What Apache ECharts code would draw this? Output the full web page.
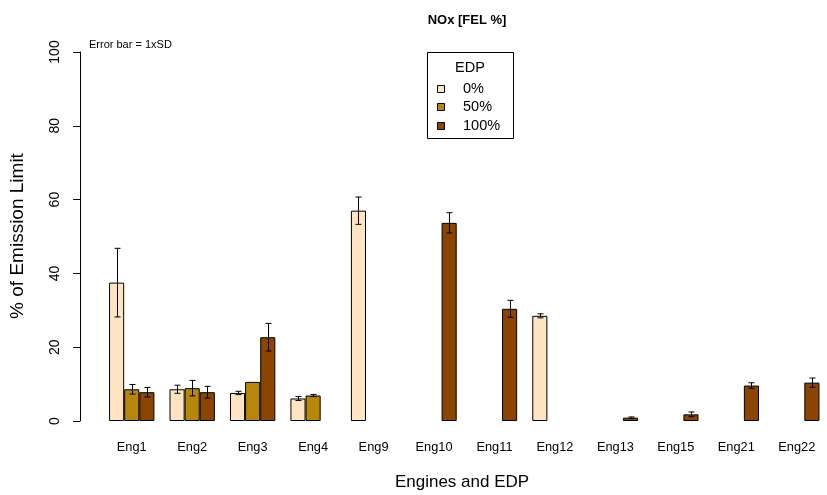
<!DOCTYPE html>
<html>
<head>
<meta charset="utf-8">
<script src="https://cdn.jsdelivr.net/npm/echarts@6/dist/echarts.min.js"></script>
<style>html,body{margin:0;padding:0;background:#fff}#c{width:827px;height:495px}</style>
</head>
<body>
<div id="c"></div>
<script>
const categories = ['Eng1','Eng2','Eng3','Eng4','Eng9','Eng10','Eng11','Eng12','Eng13','Eng15','Eng21','Eng22'];
const seriesNames = ['0%','50%','100%'];
const edp0   = [37.5, 8.6, 7.6, 6.1, 57.0, null, null, 28.5, null, null, null, null];
const edp50  = [8.6, 8.9, 10.6, 6.9, null, null, null, null, null, null, null, null];
const edp100 = [7.8, 7.8, 22.7, null, null, 53.7, 30.4, null, 0.9, 1.8, 9.6, 10.4];
const sd0    = [9.3, 1.1, 0.45, 0.55, 3.7, null, null, 0.55, null, null, null, null];
const sd50   = [1.3, 2.1, null, 0.3, null, null, null, null, null, null, null, null];
const sd100  = [1.3, 1.6, 3.75, null, null, 2.75, 2.3, null, 0.2, 0.65, 0.75, 1.25];
const yTicks = [0, 20, 40, 60, 80, 100];

const colors = ['#FFE4C4', '#B8860B', '#8B4500'];
const means = [edp0, edp50, edp100];
const sds = [sd0, sd50, sd100];
const FONT = 'Liberation Sans, Arial, sans-serif';

const chart = echarts.init(document.getElementById('c'), null, {renderer: 'canvas'});

const barSeries = means.map((arr, i) => ({
  name: seriesNames[i],
  type: 'bar',
  data: arr.map(v => v === null ? '-' : v),
  barGap: '0%',
  barCategoryGap: '25%',
  itemStyle: { color: colors[i], borderColor: '#000', borderWidth: 1 },
  emphasis: { disabled: true },
  z: 2
}));

const errSeries = means.map((arr, i) => ({
  type: 'custom',
  name: 'err' + i,
  z: 5,
  silent: true,
  data: arr.map((v, k) => [k, v, sds[i][k]]).filter(d => d[1] !== null && d[2] !== null),
  encode: { x: 0, y: 1 },
  renderItem: function (params, api) {
    const idx = api.value(0), m = api.value(1), s = api.value(2);
    const band = api.size([1, 0])[0];
    const bw = band * 0.75 / 3;
    const c = api.coord([idx, m]);
    const x = Math.round(c[0] + (i - 1) * bw) + 0.5;
    const yt = api.coord([idx, m + s])[1];
    const yb = api.coord([idx, m - s])[1];
    const cap = 3;
    const st = { stroke: '#000', lineWidth: 1 };
    return {
      type: 'group',
      children: [
        { type: 'line', shape: { x1: x, y1: yt, x2: x, y2: yb }, style: st },
        { type: 'line', shape: { x1: x - cap, y1: yt, x2: x + cap, y2: yt }, style: st },
        { type: 'line', shape: { x1: x - cap, y1: yb, x2: x + cap, y2: yb }, style: st }
      ]
    };
  }
}));

const legendChildren = [
  { type: 'rect', shape: { x: 427.5, y: 52.5, width: 86, height: 86 }, style: { fill: '#fff', stroke: '#000', lineWidth: 1 } },
  { type: 'text', style: { x: 470, y: 68, text: 'EDP', font: '14.5px ' + FONT, fill: '#000', textAlign: 'center', textVerticalAlign: 'middle' } }
];
seriesNames.forEach((n, i) => {
  const cy = 88.5 + i * 18.7;
  legendChildren.push({ type: 'rect', shape: { x: 437.5, y: Math.round(cy - 4) + 0.5, width: 7, height: 7 }, style: { fill: colors[i], stroke: '#000', lineWidth: 1 } });
  legendChildren.push({ type: 'text', style: { x: 463, y: cy, text: n, font: '14.5px ' + FONT, fill: '#000', textAlign: 'left', textVerticalAlign: 'middle' } });
});

const option = {
  backgroundColor: '#fff',
  animation: false,
  textStyle: { fontFamily: FONT },
  title: {
    text: 'NOx [FEL %]',
    left: 462, top: 9, textAlign: 'center',
    textStyle: { fontSize: 13, fontWeight: 'bold', color: '#000', fontFamily: FONT }
  },
  grid: { left: 101.5, right: -5.9, top: 52, bottom: 74, containLabel: false },
  xAxis: {
    type: 'category',
    data: categories,
    axisLine: { show: false },
    axisTick: { show: false },
    axisLabel: { color: '#000', fontSize: 12.8, margin: 20, fontFamily: FONT, interval: 0 }
  },
  yAxis: {
    type: 'value',
    min: 0, max: 100, interval: 20,
    offset: 21.5,
    axisLine: { show: true, lineStyle: { color: '#000', width: 1 } },
    axisTick: { show: true, length: 7, lineStyle: { color: '#000' } },
    splitLine: { show: false },
    axisLabel: { color: '#000', fontSize: 14, rotate: 90, margin: 18, fontFamily: FONT,
      formatter: v => yTicks.includes(v) ? String(v) : '' }
  },
  graphic: [
    { type: 'text', left: 89, top: 39, style: { text: 'Error bar = 1xSD', font: '11px ' + FONT, fill: '#000' } },
    { type: 'text', x: 462, y: 482, style: { text: 'Engines and EDP', font: '17px ' + FONT, fill: '#000', textAlign: 'center', textVerticalAlign: 'middle' } },
    { type: 'text', x: 18, y: 236, rotation: Math.PI / 2, style: { text: '% of Emission Limit', font: '19px ' + FONT, fill: '#000', textAlign: 'center', textVerticalAlign: 'middle' } },
    { type: 'group', children: legendChildren }
  ],
  series: barSeries.concat(errSeries)
};
chart.setOption(option);
</script>
</body>
</html>
